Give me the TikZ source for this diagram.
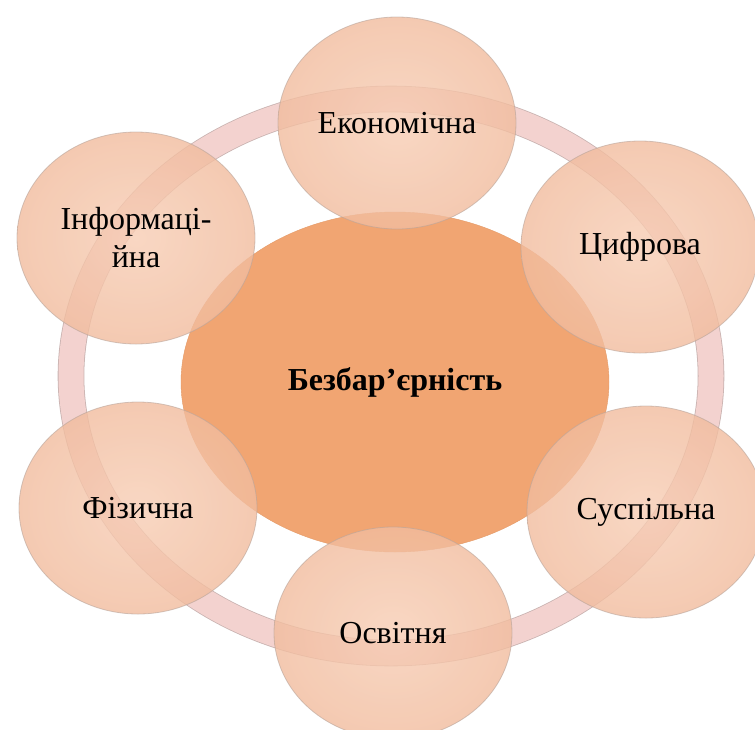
\documentclass[tikz,border=0pt]{standalone}
\usepackage{fontspec}
\setmainfont{Liberation Serif}
\usepackage{xcolor}
\usepackage{tikz}
\usetikzlibrary{shapes.geometric}

\definecolor{huborange}{HTML}{F1A572}
\definecolor{hubedge}{HTML}{E39A68}
\definecolor{petalin}{HTML}{F7CDB4}
\definecolor{petalout}{HTML}{F1BC9E}
\definecolor{petaledge}{HTML}{B8A49A}
\definecolor{ringpink}{HTML}{F3D2CF}
\definecolor{ringedge}{HTML}{C9B3B1}

\begin{document}
\begin{tikzpicture}[
  x=1pt, y=-1pt,
  font=\fontsize{32}{38}\selectfont,
  band/.style ={ellipse, draw=ringedge, line width=0.8pt, double=ringpink, double distance=25pt, minimum width=640pt, minimum height=554pt, inner sep=0pt},
  hub/.style  ={ellipse, draw=hubedge, fill=huborange, minimum width=428pt, minimum height=340pt, inner sep=0pt, font=\fontsize{32}{38}\selectfont\bfseries},
  petal/.style={ellipse, draw=petaledge, draw opacity=0.6, line width=0.8pt, inner color=petalin, outer color=petalout, fill opacity=0.8, text opacity=1, minimum width=238pt, minimum height=212pt, inner sep=0pt, align=center}
  ]

  \useasboundingbox (0,0) rectangle (755,729);

  \node[band] (ring) at (391,376) {};
  \node[hub]  (core) at (395,382) {Безбар’єрність};

  \node[petal] (ekon)   at (397,123) {Економічна};
  \node[petal] (tsyfr)  at (640,247) {Цифрова};
  \node[petal] (susp)   at (646,512) {Суспільна};
  \node[petal] (osvit)  at (393,633) {Освітня};
  \node[petal] (fiz)    at (138,508) {Фізична};
  \node[petal] (inform) at (136,238) {Інформаці-\\йна};

\end{tikzpicture}
\end{document}
